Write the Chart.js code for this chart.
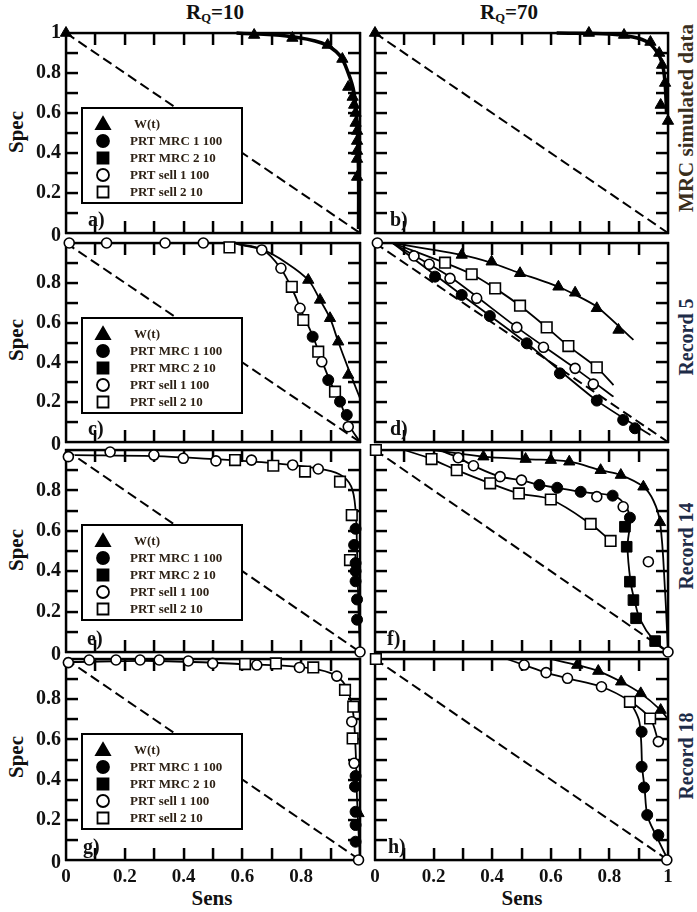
<!DOCTYPE html>
<html>
<head>
<meta charset="utf-8">
<script src="https://cdn.jsdelivr.net/npm/chart.js@4/dist/chart.umd.min.js"></script>
<style>
  body { margin: 0; background: #fff; }
  #page { position: relative; width: 697px; height: 912px; overflow: hidden; background: #fff; }
  .panel { position: absolute; }
  .txt { position: absolute; font-family: 'Liberation Serif', serif; font-weight: bold; white-space: nowrap;
         transform: translate(-50%, -50%); color: #111; }
  .rot { transform: translate(-50%, -50%) rotate(-90deg); }
  sub { font-size: 60%; vertical-align: -0.25em; }
</style>
</head>
<body>
<div id="page">
  <div class="txt" style="left:215px;top:13px;font-size:21px">R<sub>Q</sub>=10</div>
  <div class="txt" style="left:509px;top:13px;font-size:21px">R<sub>Q</sub>=70</div>

  <div class="txt rot" style="left:16px;top:132px;font-size:21px">Spec</div>
  <div class="txt rot" style="left:16px;top:340px;font-size:21px">Spec</div>
  <div class="txt rot" style="left:16px;top:550px;font-size:21px">Spec</div>
  <div class="txt rot" style="left:16px;top:757px;font-size:21px">Spec</div>

  <div class="txt" style="left:212px;top:898px;font-size:21px">Sens</div>
  <div class="txt" style="left:522px;top:898px;font-size:21px">Sens</div>

  <div class="txt rot" style="left:686px;top:118px;font-size:21px;color:#3a2e1c">MRC simulated data</div>
  <div class="txt rot" style="left:686px;top:337px;font-size:20px;color:#1e2c48">Record 5</div>
  <div class="txt rot" style="left:686px;top:546px;font-size:20px;color:#1e2c48">Record 14</div>
  <div class="txt rot" style="left:686px;top:756px;font-size:20px;color:#1e2c48">Record 18</div>
</div>
<script>
// ticks and labels
const tickValues = [0.1, 0.2, 0.3, 0.4, 0.5, 0.6, 0.7, 0.8, 0.9]
const yLabelsTop = [0, 0.2, 0.4, 0.6, 0.8, 1]
const yLabels = [0, 0.2, 0.4, 0.6, 0.8]
const xLabelsLeft = [0, 0.2, 0.4, 0.6, 0.8]
const xLabelsRight = [0, 0.2, 0.4, 0.6, 0.8, 1]
const legendLabels = ['W(t)', 'PRT MRC 1 100', 'PRT MRC 2 10', 'PRT sell 1 100', 'PRT sell 2 10']
const legendKeys = ['W', 'MRC1', 'MRC2', 'sell1', 'sell2']
const diagonal = [[0, 1], [1, 0]]

// a) simulated, RQ=10
const aW = [[0, 1], [0.64, 0.99], [0.77, 0.975], [0.89, 0.94], [0.94, 0.87], [0.96, 0.73], [0.975, 0.68],
  [0.98, 0.64], [0.985, 0.6], [0.985, 0.55], [0.99, 0.51], [0.99, 0.46], [0.99, 0.41], [0.99, 0.37], [0.99, 0.28]]
const aWCurve = [[0.58, 1], [0.75, 0.985], [0.87, 0.95], [0.93, 0.89], [0.96, 0.8], [0.98, 0.7], [0.99, 0.55], [0.995, 0.3], [0.995, 0.02]]

// b) simulated, RQ=70
const bW = [[0, 1], [0.73, 1], [0.85, 0.99], [0.94, 0.955], [0.97, 0.9], [0.98, 0.84], [0.99, 0.75], [0.975, 0.64], [1.0, 0.56]]
const bWCurve = [[0.62, 1], [0.8, 0.995], [0.88, 0.98], [0.93, 0.955], [0.96, 0.91], [0.98, 0.85], [0.99, 0.75], [0.995, 0.6]]

// c) record 5, RQ=10
const cW = [[0.824, 0.814], [0.864, 0.714], [0.898, 0.622], [0.926, 0.504], [0.96, 0.337]]
const cMRC1 = [[0.839, 0.529], [0.892, 0.311], [0.932, 0.203], [0.955, 0.136]]
const cSell1 = [[0.011, 1], [0.138, 1], [0.337, 1], [0.467, 1], [0.666, 0.965], [0.731, 0.873], [0.796, 0.672], [0.87, 0.403], [0.96, 0.077]]
const cSell2 = [[0.556, 0.978], [0.768, 0.78], [0.807, 0.613], [0.858, 0.454], [0.915, 0.253]]
const cCurveW = [[0.58, 0.995], [0.67, 0.965], [0.75, 0.9], [0.824, 0.814], [0.864, 0.714], [0.898, 0.622], [0.926, 0.504], [0.96, 0.37], [1.0, 0.22]]
const cCurveSell = [[0.58, 0.995], [0.67, 0.965], [0.73, 0.873], [0.775, 0.75], [0.8, 0.66], [0.84, 0.53], [0.87, 0.41], [0.9, 0.3], [0.935, 0.19], [0.965, 0.08], [1.0, 0]]

// d) record 5, RQ=70
const dW = [[0.296, 0.94], [0.398, 0.906], [0.495, 0.848], [0.626, 0.78], [0.683, 0.75], [0.757, 0.672], [0.831, 0.563]]
const dMRC1 = [[0.205, 0.831], [0.296, 0.739], [0.392, 0.633], [0.518, 0.496], [0.631, 0.345], [0.757, 0.208], [0.847, 0.111], [0.887, 0.069]]
const dSell1 = [[0.008, 1], [0.133, 0.935], [0.185, 0.893], [0.256, 0.822], [0.347, 0.722], [0.484, 0.576], [0.575, 0.476], [0.683, 0.37], [0.745, 0.291]]
const dSell2 = [[0.239, 0.901], [0.33, 0.843], [0.41, 0.772], [0.495, 0.685], [0.586, 0.576], [0.66, 0.482], [0.757, 0.375]]
const dCurveW = [[0.06, 1], [0.296, 0.94], [0.398, 0.9], [0.495, 0.848], [0.626, 0.78], [0.757, 0.68], [0.882, 0.513]]
const dCurveSell2 = [[0.06, 1], [0.239, 0.9], [0.33, 0.843], [0.41, 0.772], [0.495, 0.685], [0.586, 0.576], [0.66, 0.482], [0.757, 0.375], [0.814, 0.286]]
const dCurveSell1 = [[0.06, 1], [0.256, 0.83], [0.484, 0.576], [0.683, 0.37], [0.814, 0.228]]
const dCurveMRC1 = [[0.06, 1], [0.296, 0.739], [0.518, 0.496], [0.757, 0.208], [0.94, 0.035]]

// e) record 14, RQ=10
const eMRC1 = [[0.985, 0.61], [0.98, 0.53], [0.985, 0.44], [0.985, 0.4], [0.985, 0.35], [0.99, 0.26], [0.99, 0.16]]
const eSell1 = [[0.008, 0.967], [0.15, 0.99], [0.299, 0.975], [0.399, 0.959], [0.51, 0.946], [0.631, 0.95], [0.771, 0.926], [0.858, 0.906], [1.0, 0.0]]
const eSell2 = [[0.575, 0.95], [0.705, 0.922], [0.813, 0.893], [0.932, 0.843], [0.972, 0.678], [0.966, 0.455]]
const eCurve = [[0.03, 0.975], [0.3, 0.97], [0.5, 0.955], [0.7, 0.935], [0.85, 0.91], [0.93, 0.88], [0.97, 0.82], [0.985, 0.7], [0.99, 0.5], [0.995, 0.2], [1.0, 0]]

// f) record 14, RQ=70
const fW = [[0.37, 0.967], [0.514, 0.955], [0.6, 0.95], [0.663, 0.942], [0.77, 0.9], [0.839, 0.876], [0.916, 0.818], [0.973, 0.642]]
const fMRC1 = [[0.561, 0.827], [0.622, 0.813], [0.702, 0.793], [0.811, 0.774], [0.87, 0.665]]
const fMRC2 = [[0.853, 0.62], [0.859, 0.521], [0.87, 0.348], [0.882, 0.257], [0.891, 0.167], [0.956, 0.054]]
const fSell1 = [[0.284, 0.962], [0.336, 0.922], [0.427, 0.868], [0.5, 0.851], [0.757, 0.769], [0.847, 0.719], [0.933, 0.447], [1.0, 0.0]]
const fSell2 = [[0.003, 1], [0.193, 0.955], [0.279, 0.9], [0.393, 0.835], [0.491, 0.785], [0.6, 0.755], [0.736, 0.634], [0.804, 0.55]]
const fCurveW = [[0.2, 1], [0.37, 0.967], [0.514, 0.955], [0.663, 0.942], [0.77, 0.9], [0.839, 0.876], [0.916, 0.818], [0.95, 0.75], [0.973, 0.642], [0.99, 0.3], [1.0, 0]]
const fCurveMRC = [[0.22, 1], [0.284, 0.962], [0.336, 0.922], [0.427, 0.868], [0.5, 0.851], [0.561, 0.827], [0.622, 0.813], [0.702, 0.793],
  [0.811, 0.774], [0.847, 0.74], [0.87, 0.665], [0.862, 0.52], [0.872, 0.35], [0.885, 0.26], [0.905, 0.16], [0.95, 0.06], [1.0, 0]]
const fCurveSell2 = [[0.1, 1], [0.193, 0.955], [0.279, 0.9], [0.393, 0.835], [0.491, 0.785], [0.6, 0.755], [0.736, 0.634], [0.804, 0.55]]

// g) record 18, RQ=10
const gW = [[0.995, 0.232]]
const gMRC1 = [[0.985, 0.418], [0.983, 0.365], [0.985, 0.24], [0.985, 0.174], [0.985, 0.091]]
const gSell1 = [[0.008, 0.982], [0.079, 0.995], [0.17, 0.995], [0.252, 0.995], [0.317, 0.995], [0.416, 0.99], [0.499, 0.978],
  [0.649, 0.97], [0.794, 0.958], [0.921, 0.915], [0.972, 0.688], [0.98, 0.481], [0.995, 0.0]]
const gSell2 = [[0.609, 0.975], [0.714, 0.978], [0.841, 0.958], [0.949, 0.846], [0.977, 0.763], [0.975, 0.605]]
const gCurve = [[0.02, 0.985], [0.3, 0.99], [0.6, 0.975], [0.8, 0.96], [0.9, 0.93], [0.95, 0.87], [0.975, 0.75], [0.985, 0.55], [0.99, 0.3], [1.0, 0]]

// h) record 18, RQ=70
const hW = [[0.69, 0.97], [0.762, 0.94], [0.84, 0.887], [0.907, 0.829], [0.975, 0.746]]
const hMRC1 = [[0.91, 0.638], [0.91, 0.464], [0.918, 0.361], [0.929, 0.224], [0.967, 0.124]]
const hSell1 = [[0.509, 0.97], [0.584, 0.932], [0.657, 0.904], [0.773, 0.862], [0.967, 0.589], [0.996, 0.0]]
const hSell2 = [[0.003, 1], [0.87, 0.787], [0.939, 0.704]]
const hCurveW = [[0.6, 1], [0.69, 0.97], [0.762, 0.94], [0.84, 0.887], [0.907, 0.829], [0.975, 0.746], [1.0, 0.7]]
const hCurveSell = [[0.45, 1], [0.509, 0.97], [0.584, 0.932], [0.657, 0.904], [0.773, 0.862], [0.87, 0.79], [0.939, 0.704], [0.967, 0.589]]
const hCurveMRC = [[0.87, 0.79], [0.9, 0.7], [0.908, 0.6], [0.912, 0.46], [0.92, 0.36], [0.93, 0.22], [0.96, 0.12], [1.0, 0]]

const FONT = "'Liberation Serif', serif"

const markerStyle = {
  W: { pointStyle: 'triangle', pointRadius: 6.5, pointBackgroundColor: '#000', pointBorderColor: '#000', pointBorderWidth: 1 },
  MRC1: { pointStyle: 'circle', pointRadius: 5.5, pointBackgroundColor: '#000', pointBorderColor: '#000', pointBorderWidth: 1 },
  MRC2: { pointStyle: 'rect', pointRadius: 7.5, pointBackgroundColor: '#000', pointBorderColor: '#000', pointBorderWidth: 1 },
  sell1: { pointStyle: 'circle', pointRadius: 5, pointBackgroundColor: '#fff', pointBorderColor: '#000', pointBorderWidth: 1.6 },
  sell2: { pointStyle: 'rect', pointRadius: 7.5, pointBackgroundColor: '#fff', pointBorderColor: '#000', pointBorderWidth: 1.6 }
}

const toXY = arr => arr.map(p => ({ x: p[0], y: p[1] }))

function markers(arr, key) {
  return Object.assign({ data: toXY(arr), showLine: false, clip: false, order: 0 }, markerStyle[key])
}
function curve(arr, width, tension) {
  return { data: toXY(arr), showLine: true, pointRadius: 0, borderColor: '#000', borderWidth: width,
    tension: tension === undefined ? 0.35 : tension, clip: false, order: 1 }
}
function dashed() {
  return { data: toXY(diagonal), showLine: true, pointRadius: 0, borderColor: '#000', borderWidth: 2,
    borderDash: [10, 5], clip: false, order: 2 }
}

const fmt = v => v === 0 ? '0' : v === 1 ? '1' : v.toFixed(1)

// frame and inward ticks on all four sides, placed with the chart's own scales
function drawFrame(chart) {
  const ctx = chart.ctx
  const a = chart.chartArea
  const xs = chart.scales.x, ys = chart.scales.y
  const L = 12
  ctx.save()
  ctx.setLineDash([])
  ctx.fillStyle = '#000'
  ctx.fillRect(a.left - 1, a.top - 1.2, a.right - a.left + 2, 2.5)
  ctx.fillRect(a.left - 1, a.bottom - 1.2, a.right - a.left + 2, 2.5)
  ctx.fillRect(a.left - 1.2, a.top - 1, 2.5, a.bottom - a.top + 2)
  ctx.fillRect(a.right - 1.2, a.top - 1, 2.5, a.bottom - a.top + 2)
  tickValues.forEach(function (v) {
    const px = Math.round(xs.getPixelForValue(v))
    const py = Math.round(ys.getPixelForValue(v))
    ctx.fillRect(px - 1.2, a.bottom - L, 2.5, L)
    ctx.fillRect(px - 1.2, a.top, 2.5, L)
    ctx.fillRect(a.left, py - 1.2, L, 2.5)
    ctx.fillRect(a.right - L, py - 1.2, L, 2.5)
  })
  ctx.restore()
}

const framePlugin = {
  id: 'frame',
  beforeDatasetsDraw(chart) {
    drawFrame(chart)
  },
  afterDatasetsDraw(chart, args, opts) {
    const ctx = chart.ctx
    const a = chart.chartArea
    const xs = chart.scales.x, ys = chart.scales.y
    ctx.save()
    ctx.setLineDash([])
    ctx.fillStyle = '#111'
    ctx.font = 'bold 20px ' + FONT
    ctx.textAlign = 'left'
    ctx.textBaseline = 'alphabetic'
    ctx.fillText(opts.tag, a.left + opts.tagDx, a.bottom - 7)

    if (opts.legend) {
      const bx = a.left + 16, by = a.top + 75, bw = 160, bh = 95
      ctx.fillStyle = '#fff'
      ctx.fillRect(bx, by, bw, bh)
      ctx.strokeStyle = '#000'
      ctx.lineWidth = 2
      ctx.strokeRect(bx, by, bw, bh)
      legendLabels.forEach((lab, i) => {
        const cy = by + 16 + i * 17
        drawMarker(ctx, markerStyle[legendKeys[i]], bx + 21, cy)
        ctx.fillStyle = '#2e2216'
        ctx.font = 'bold 13px ' + FONT
        ctx.textAlign = 'left'
        ctx.textBaseline = 'middle'
        ctx.fillText(lab, bx + (i === 0 ? 52 : 48), cy + 1)
      })
    }

    ctx.fillStyle = '#111'
    ctx.font = 'bold 20px ' + FONT
    ctx.textAlign = 'right'
    ctx.textBaseline = 'middle'
    for (const v of (opts.yLabels || [])) {
      ctx.fillText(fmt(v), a.left - 5, ys.getPixelForValue(v) + (v === 0 ? 3 : 0))
    }
    ctx.font = 'bold 19px ' + FONT
    ctx.textAlign = 'center'
    for (const v of (opts.xLabels || [])) {
      ctx.fillText(fmt(v), xs.getPixelForValue(v), a.bottom + 17)
    }
    ctx.restore()
  }
}

function drawMarker(ctx, s, cx, cy) {
  ctx.save()
  ctx.fillStyle = s.pointBackgroundColor
  ctx.strokeStyle = '#000'
  ctx.lineWidth = 1.8
  ctx.beginPath()
  if (s.pointStyle === 'triangle') {
    ctx.moveTo(cx, cy - 7); ctx.lineTo(cx + 7, cy + 5); ctx.lineTo(cx - 7, cy + 5); ctx.closePath()
  } else if (s.pointStyle === 'circle') {
    ctx.arc(cx, cy, 6, 0, Math.PI * 2)
  } else {
    ctx.rect(cx - 5.5, cy - 5.5, 11, 11)
  }
  ctx.fill()
  ctx.stroke()
  ctx.restore()
}

const cols = [{ left: 66, w: 294 }, { left: 375, w: 293 }]
const rows = [{ top: 33, h: 200 }, { top: 243, h: 199 }, { top: 450, h: 202 }, { top: 659, h: 201 }]
const pad = { left: 62, right: 14, top: 14, bottom: 34 }

const panels = [
  { col: 0, row: 0, tag: 'a)', tagDx: 22, legend: true, yLabels: yLabelsTop,
    datasets: [markers(aW, 'W'), curve(aWCurve, 3.5), dashed()] },
  { col: 1, row: 0, tag: 'b)', tagDx: 15,
    datasets: [markers(bW, 'W'), curve(bWCurve, 3.5), dashed()] },
  { col: 0, row: 1, tag: 'c)', tagDx: 22, legend: true, yLabels: yLabels,
    datasets: [markers(cW, 'W'), markers(cMRC1, 'MRC1'), markers(cSell1, 'sell1'), markers(cSell2, 'sell2'),
      curve(cCurveW, 1.8), curve(cCurveSell, 1.8), dashed()] },
  { col: 1, row: 1, tag: 'd)', tagDx: 15,
    datasets: [markers(dW, 'W'), markers(dMRC1, 'MRC1'), markers(dSell1, 'sell1'), markers(dSell2, 'sell2'),
      curve(dCurveW, 1.8, 0.2), curve(dCurveSell2, 1.8, 0.2), curve(dCurveSell1, 1.8, 0.2), curve(dCurveMRC1, 1.8, 0.2), dashed()] },
  { col: 0, row: 2, tag: 'e)', tagDx: 21, legend: true, yLabels: yLabels,
    datasets: [markers(eMRC1, 'MRC1'), markers(eSell1, 'sell1'), markers(eSell2, 'sell2'), curve(eCurve, 1.8), dashed()] },
  { col: 1, row: 2, tag: 'f)', tagDx: 12,
    datasets: [markers(fW, 'W'), markers(fMRC1, 'MRC1'), markers(fMRC2, 'MRC2'), markers(fSell1, 'sell1'), markers(fSell2, 'sell2'),
      curve(fCurveW, 1.8), curve(fCurveMRC, 1.8), curve(fCurveSell2, 1.8), dashed()] },
  { col: 0, row: 3, tag: 'g)', tagDx: 17, legend: true, yLabels: yLabels, xLabels: xLabelsLeft,
    datasets: [markers(gW, 'W'), markers(gMRC1, 'MRC1'), markers(gSell1, 'sell1'), markers(gSell2, 'sell2'), curve(gCurve, 1.8), dashed()] },
  { col: 1, row: 3, tag: 'h)', tagDx: 13, xLabels: xLabelsRight,
    datasets: [markers(hW, 'W'), markers(hMRC1, 'MRC1'), markers(hSell1, 'sell1'), markers(hSell2, 'sell2'),
      curve(hCurveW, 1.8), curve(hCurveSell, 1.8), curve(hCurveMRC, 1.8), dashed()] }
]

const page = document.getElementById('page')

panels.forEach(p => {
  const c = cols[p.col], r = rows[p.row]
  const wrap = document.createElement('div')
  wrap.className = 'panel'
  const W = c.w + pad.left + pad.right, H = r.h + pad.top + pad.bottom
  wrap.style.left = (c.left - pad.left) + 'px'
  wrap.style.top = (r.top - pad.top) + 'px'
  wrap.style.width = W + 'px'
  wrap.style.height = H + 'px'
  const canvas = document.createElement('canvas')
  canvas.width = W
  canvas.height = H
  canvas.style.width = W + 'px'
  canvas.style.height = H + 'px'
  wrap.appendChild(canvas)
  page.appendChild(wrap)

  new Chart(canvas, {
    type: 'scatter',
    data: { datasets: p.datasets },
    options: {
      responsive: false,
      animation: false,
      events: [],
      layout: { padding: pad },
      scales: {
        x: { type: 'linear', min: 0, max: 1, display: false },
        y: { type: 'linear', min: 0, max: 1, display: false }
      },
      plugins: {
        legend: { display: false },
        tooltip: { enabled: false },
        frame: { tag: p.tag, tagDx: p.tagDx, legend: !!p.legend, yLabels: p.yLabels, xLabels: p.xLabels }
      }
    },
    plugins: [framePlugin]
  })
})
</script>
</body>
</html>
